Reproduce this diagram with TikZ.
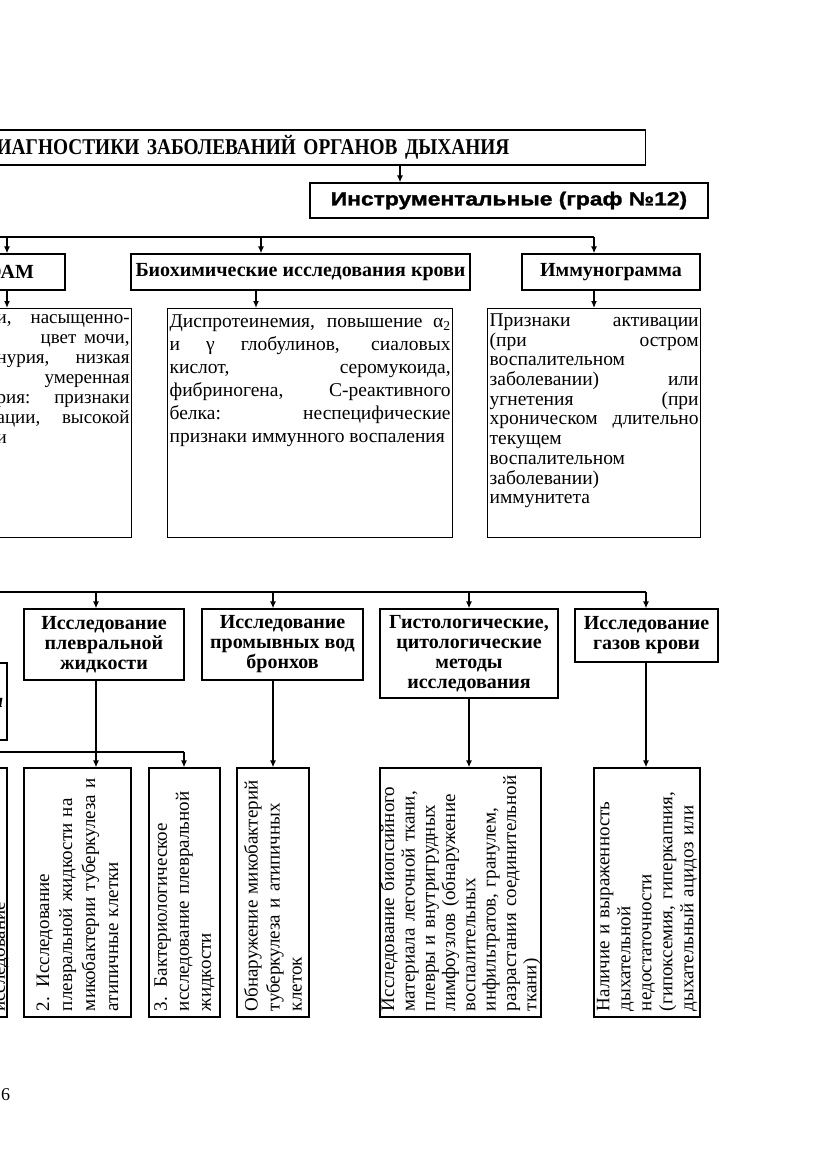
\documentclass[tikz,border=0pt]{standalone}
\usepackage{fontspec}
\setmainfont{Liberation Serif}
\newfontfamily\headsans[FakeStretch=1.2,FakeBold=1.5]{Liberation Sans}
\newfontfamily\titleserif[FakeStretch=0.86]{Liberation Serif}
\usetikzlibrary{arrows.meta,positioning,calc}
\hyphenpenalty=10000

\begin{document}
\begin{tikzpicture}[x=1pt,y=-1pt,
  hbox/.style={draw, line width=1.3pt, inner sep=2pt, align=center, font=\bfseries\fontsize{20}{20}\selectfont},
  txtbox/.style={draw, line width=1.3pt, inner xsep=2pt, inner ysep=2pt, anchor=north west},
  rotbox/.style={draw, line width=1.3pt, rotate=90, minimum width=249pt, text width=237pt, align=left, inner xsep=6pt, inner ysep=0pt, font=\fontsize{19}{23}\selectfont},
  arr/.style={line width=1.3pt, -{Latex[length=7pt,width=6pt]}},
  link/.style={line width=1.3pt}]
\useasboundingbox (0,0) rectangle (831,1174);
\fill[white] (0,0) rectangle (831,1174);
\clip (0,0) rectangle (831,1174);

% columns of the connectors
\coordinate (xtop) at (400,0);
\coordinate (xoam) at (7,0);
\coordinate (xbio) at (261,0);
\coordinate (xbiot) at (256,0);
\coordinate (ximm) at (594,0);
\coordinate (xpleu) at (96,0);
\coordinate (xbact) at (184,0);
\coordinate (xwash) at (273,0);
\coordinate (xhist) at (469,0);
\coordinate (xgas) at (646,0);

% head
\node[hbox, anchor=east, minimum height=35pt, text width=900pt, align=right, font=\titleserif\bfseries\fontsize{22.5}{23}\selectfont] (title) at (646,147.5) {ДИАГНОСТИКИ ЗАБОЛЕВАНИЙ ОРГАНОВ ДЫХАНИЯ\hspace*{134pt}\mbox{}};
\node[hbox, minimum width=398pt, minimum height=35pt, font=\headsans\bfseries\fontsize{19}{20}\selectfont] (instr) at (509,200.5) {Инструментальные (граф №12)};
\draw[arr] (xtop |- title.south) -- (xtop |- instr.north);

% upper row
\node[hbox, minimum width=110pt, minimum height=36pt] (oam) at (10,272) {ОАМ};
\node[hbox, minimum width=339pt, minimum height=36pt] (bio) at (300.5,272) {Биохимические исследования крови};
\node[hbox, minimum width=178pt, minimum height=36pt] (imm) at (611,272) {Иммунограмма};

\coordinate (busA) at (-10,237);
\draw[link] (busA) -- (busA -| ximm);
\draw[arr] (xoam |- busA) -- (xoam |- oam.north);
\draw[arr] (xbio |- busA) -- (xbio |- bio.north);
\draw[arr] (ximm |- busA) -- (ximm |- imm.north);

\node[txtbox] (oamtxt) at (-200,308) {\begin{minipage}[t][225pt][t]{327pt}\fontsize{19}{20}\selectfont\leftskip=194pt
\vspace*{4pt}
и,\nobreak\hfill насыщенно-\\
\hspace*{44pt}цвет\nobreak\hfill мочи,\\
нурия,\nobreak\hfill низкая\\
\hspace*{\fill}умеренная\\
рия:\nobreak\hfill признаки\\
ации,\nobreak\hfill высокой\\
и\end{minipage}};
\node[txtbox] (biotxt) at (167,308) {\begin{minipage}[t][225pt][t]{281pt}\fontsize{19.5}{23}\selectfont
\vspace*{4pt}
Диспротеинемия, повышение α\textsubscript{2}\linebreak
и γ глобулинов, сиаловых\linebreak
кислот, серомукоида,\linebreak
фибриногена, С-реактивного\linebreak
белка: неспецифические\linebreak
признаки иммунного воспаления\end{minipage}};
\node[txtbox] (immtxt) at (487,308) {\begin{minipage}[t][225pt][t]{209pt}\fontsize{19.5}{19.7}\selectfont
\vspace*{3pt}
Признаки активации\linebreak
(при остром\linebreak
воспалительном\linebreak
заболевании) или\linebreak
угнетения (при\linebreak
хроническом длительно\linebreak
текущем\linebreak
воспалительном\linebreak
заболевании)\linebreak
иммунитета\end{minipage}};

\draw[arr] (xoam |- oam.south) -- (xoam |- oamtxt.north);
\draw[arr] (xbiot |- bio.south) -- (xbiot |- biotxt.north);
\draw[arr] (ximm |- imm.south) -- (ximm |- immtxt.north);

% lower row
\node[hbox, minimum width=160pt, minimum height=71pt] (pleu) at (104,644.5) {Исследование\\плевральной\\жидкости};
\node[hbox, minimum width=161pt, minimum height=71pt] (wash) at (282.5,644.5) {Исследование\\промывных вод\\бронхов};
\node[hbox, minimum width=178pt, minimum height=89pt] (hist) at (469,653.5) {Гистологические,\\цитологические\\методы\\исследования};
\node[hbox, minimum width=143pt, minimum height=53pt] (gas) at (646.5,635.5) {Исследование\\газов крови};
\node[hbox, minimum width=107pt, minimum height=77pt] (leftmid) at (-46.5,701.5) {};
\node[anchor=base east, inner sep=0pt, font=\bfseries\itshape\fontsize{20}{20}\selectfont] (leftmidtxt) at (3.5,707) {и};

\coordinate (busB) at (-10,592);
\draw[link] (busB) -- (busB -| xgas);
\draw[arr] (xpleu |- busB) -- (xpleu |- pleu.north);
\draw[arr] (xwash |- busB) -- (xwash |- wash.north);
\draw[arr] (xhist |- busB) -- (xhist |- hist.north);
\draw[arr] (xgas |- busB) -- (xgas |- gas.north);

% results, turned on their side
\node[rotbox, minimum height=107pt] (res1) at (-46.5,892.5) {};
\node[rotate=90, anchor=base west, inner sep=0pt, font=\fontsize{19}{23}\selectfont] (res1txt) at (5,1012) {исследование};
\node[rotbox, minimum height=107pt] (res2) at (77.5,892.5) {2. Исследование\\плевральной жидкости на\\микобактерии туберкулеза и\\атипичные клетки};
\node[rotbox, minimum height=71pt, font=\fontsize{19}{22}\selectfont] (res3) at (184.5,892.5) {3. Бактериологическое\\исследование плевральной\\жидкости};
\node[rotbox, minimum height=72pt, font=\fontsize{19}{22}\selectfont] (res4) at (273,892.5) {Обнаружение микобактерий\\туберкулеза и атипичных\\клеток};
\node[rotbox, minimum height=161pt, font=\fontsize{19}{20.3}\selectfont] (res5) at (460.5,892.5) {Исследование биопсийного\\материала легочной ткани,\\плевры  и внутригрудных\\лимфоузлов (обнаружение\\воспалительных\\инфильтратов, гранулем,\\разрастания соединительной\\ткани)};
\node[rotbox, minimum height=106pt, font=\fontsize{19}{21}\selectfont] (res6) at (647,892.5) {Наличие и выраженность\\дыхательной\\недостаточности\\(гипоксемия, гиперкапния,\\дыхательный ацидоз или};

\coordinate (busC) at (-10,752);
\draw[link] (busC) -- (busC -| xbact);
\draw[arr] (xpleu |- pleu.south) -- (xpleu |- res2.east);
\draw[arr] (xbact |- busC) -- (xbact |- res3.east);
\draw[arr] (xwash |- wash.south) -- (xwash |- res4.east);
\draw[arr] (xhist |- hist.south) -- (xhist |- res5.east);
\draw[arr] (xgas |- gas.south) -- (xgas |- res6.east);

\node[anchor=base west, inner sep=0pt, font=\fontsize{18}{20}\selectfont] (pagenum) at (1,1100) {6};
\end{tikzpicture}
\end{document}
